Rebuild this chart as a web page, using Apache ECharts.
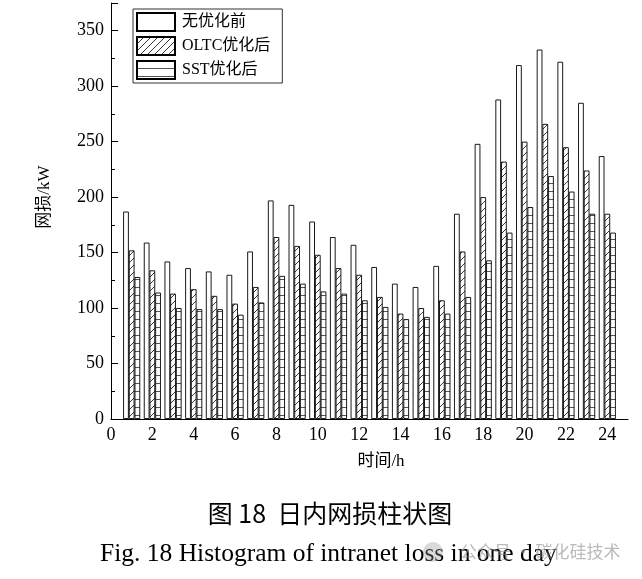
<!DOCTYPE html>
<html><head><meta charset="utf-8">
<script src="https://cdn.jsdelivr.net/npm/echarts@6/dist/echarts.min.js"></script>
<style>html,body{margin:0;padding:0;background:#fff}#c{width:642px;height:579px}</style>
</head><body><div id="c"></div>
<script>
const hours = [1,2,3,4,5,6,7,8,9,10,11,12,13,14,15,16,17,18,19,20,21,22,23,24];
const noOpt = [187,159,142,136,133,130,151,197,193,178,164,157,137,122,119,138,185,248,288,319,333,322,285,237];
const oltc  = [152,134,113,117,111,104,119,164,156,148,136,130,110,95,100,107,151,200,232,250,266,245,224,185];
const sst   = [128,114,100,99,99,94,105,129,122,115,113,107,101,90,92,95,110,143,168,191,219,205,185,168];
const seriesNames = ['无优化前','OLTC优化后','SST优化后'];

const SERIF = "'Liberation Serif','Times New Roman','Noto Sans CJK SC',serif";

function diagPattern(){
  const s = 7, c = document.createElement('canvas');
  c.width = s; c.height = s;
  const g = c.getContext('2d');
  g.fillStyle = '#fff'; g.fillRect(0,0,s,s);
  g.strokeStyle = '#222'; g.lineWidth = 0.9;
  g.beginPath();
  g.moveTo(0,s); g.lineTo(s,0);
  g.moveTo(-1,1); g.lineTo(1,-1);
  g.moveTo(s-1,s+1); g.lineTo(s+1,s-1);
  g.stroke();
  return {image: c, repeat: 'repeat'};
}
function horizPattern(){
  const c = document.createElement('canvas');
  c.width = 4; c.height = 8;
  const g = c.getContext('2d');
  g.fillStyle = '#fff'; g.fillRect(0,0,4,8);
  g.fillStyle = '#555'; g.fillRect(0,7,4,1);
  return {image: c, repeat: 'repeat'};
}

const chart = echarts.init(document.getElementById('c'), null, {renderer:'canvas'});
const fills = ['#ffffff', diagPattern(), horizPattern()];
const datasets = [noOpt, oltc, sst];

chart.setOption({
  animation: false,
  backgroundColor: '#fff',
  grid: {left: 111, right: 14, top: 3, bottom: 160, containLabel: false, outerBoundsMode: 'none'},
  legend: {
    data: seriesNames, orient: 'vertical', left: 133, top: 9,
    itemWidth: 38, itemHeight: 18, itemGap: 4,
    padding: [3, 12, 3, 3],
    borderColor: '#333', borderWidth: 1,
    icon: 'rect',
    textStyle: {fontSize: 16, fontFamily: SERIF, color: '#000', padding: [0,0,0,2]}
  },
  xAxis: {
    type: 'value', min: 0, max: 25, interval: 2,
    axisLine: {show: true, lineStyle: {color: '#000', width: 1}},
    axisTick: {show: true, inside: true, length: 7, lineStyle: {color: '#000'}},
    axisLabel: {fontSize: 18, fontFamily: SERIF, color: '#000', margin: 7, showMaxLabel: false},
    splitLine: {show: false}
  },
  yAxis: {
    type: 'value', min: 0, max: 375, interval: 50,
    axisLine: {show: true, lineStyle: {color: '#000', width: 1}},
    axisTick: {show: true, inside: true, length: 7, lineStyle: {color: '#000'}},
    minorTick: {show: true, splitNumber: 2, length: 4, lineStyle: {color: '#000'}},
    axisLabel: {fontSize: 18, fontFamily: SERIF, color: '#000', margin: 7, showMaxLabel: false},
    splitLine: {show: false}
  },
  series: seriesNames.map((n, k) => ({
    name: n, type: 'bar', barWidth: 5.7, barGap: '0%',
    data: hours.map((h, i) => [h, datasets[k][i]]),
    itemStyle: {color: fills[k], borderColor: '#000', borderWidth: 0.9}
  })),
  graphic: [
    {type: 'text', x: 45, y: 197, rotation: Math.PI / 2,
      style: {text: '网损/kW', fontSize: 17, fontFamily: SERIF, fill: '#000',
        align: 'center', verticalAlign: 'middle'}},
    {type: 'text', x: 381, y: 462,
      style: {text: '时间/h', fontSize: 17, fontFamily: SERIF, fill: '#000',
        align: 'center', verticalAlign: 'middle'}},
    {type: 'text', x: 330, y: 513,
      style: {text: '图 18  日内网损柱状图', fontSize: 25, fontWeight: 'normal',
        fontFamily: "'Noto Sans CJK SC','Noto Sans',sans-serif", fill: '#000',
        align: 'center', verticalAlign: 'middle'}},
    {type: 'text', x: 100, y: 554,
      style: {text: 'Fig. 18 Histogram of intranet loss in one day', fontSize: 25.5,
        fontFamily: SERIF, fill: '#000', align: 'left', verticalAlign: 'middle'}},
    {type: 'circle', shape: {cx: 433, cy: 552, r: 10}, z: 10,
      style: {fill: 'rgba(150,150,150,0.35)'}},
    {type: 'text', x: 460, y: 552, z: 10,
      style: {text: '公众号 · 碳化硅技术', fontSize: 17,
        fontFamily: "'Noto Sans CJK SC',sans-serif", fill: 'rgba(140,140,140,0.6)',
        align: 'left', verticalAlign: 'middle'}}
  ]
});
</script></body></html>
